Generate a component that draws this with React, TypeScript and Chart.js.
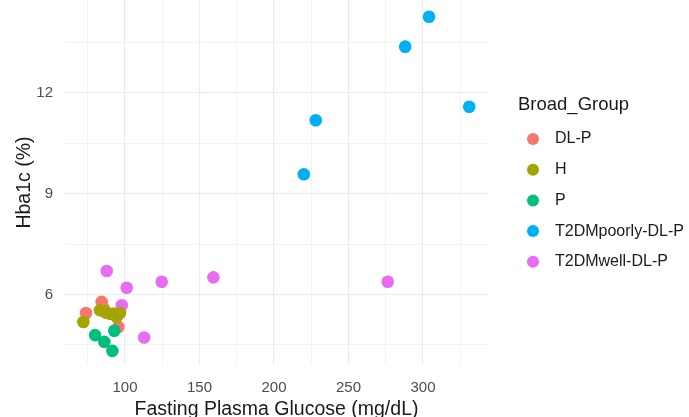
import React, { useEffect, useRef } from "react";
import { Chart, registerables } from "chart.js";

Chart.register(...registerables);

const groupNames = ["DL-P", "H", "P", "T2DMpoorly-DL-P", "T2DMwell-DL-P"];
const groupColors = ["#F8766D", "#A3A500", "#00BF7D", "#00B0F6", "#E76BF3"];

const dlpX = [73.8, 84.3, 85.5, 95.5];
const dlpY = [5.45, 5.78, 5.6, 5.03];
const hX = [72, 83.2, 86, 87.7, 90.5, 92.2, 94.4, 96.6];
const hY = [5.18, 5.53, 5.5, 5.45, 5.42, 5.43, 5.33, 5.45];
const pX = [79.9, 86.1, 91.5, 92.8];
const pY = [4.79, 4.59, 4.32, 4.92];
const poorX = [220, 228, 288, 304, 331];
const poorY = [9.58, 11.19, 13.38, 14.27, 11.59];
const wellX = [87.7, 97.8, 101.1, 112.8, 124.6, 159.3, 276.3];
const wellY = [6.7, 5.68, 6.2, 4.72, 6.38, 6.51, 6.38];

const xTicks = [75, 100, 125, 150, 175, 200, 225, 250, 275, 300, 325];
const xMajor = [100, 150, 200, 250, 300];
const yTicks = [4.5, 6, 7.5, 9, 10.5, 12, 13.5];
const yMajor = [6, 9, 12];

const FONT = "'Liberation Sans', Arial, sans-serif";
const W = 689;
const H = 421;

const zip = (xs: number[], ys: number[]) => xs.map((x, i) => ({ x, y: ys[i] }));

const legendPlugin = {
  id: "ggLegend",
  afterDraw(chart: any) {
    const ctx = chart.ctx;
    ctx.save();
    ctx.textBaseline = "middle";
    ctx.textAlign = "left";
    ctx.fillStyle = "#1a1a1a";
    ctx.font = `18.5px ${FONT}`;
    ctx.fillText("Broad_Group", 518, 105);
    ctx.font = `16px ${FONT}`;
    groupNames.forEach((name, i) => {
      const y = 139 + i * 30.7;
      ctx.beginPath();
      ctx.fillStyle = groupColors[i];
      ctx.arc(533, y, 6, 0, Math.PI * 2);
      ctx.fill();
      ctx.fillStyle = "#1a1a1a";
      ctx.fillText(name, 555, y);
    });
    ctx.restore();
  },
};

export default function App() {
  const ref = useRef<HTMLCanvasElement>(null);
  useEffect(() => {
    if (!ref.current) return;
    const series = [zip(dlpX, dlpY), zip(hX, hY), zip(pX, pY), zip(poorX, poorY), zip(wellX, wellY)];
    const drawOrder = [3, 1, 0, 4, 2];
    const chart = new Chart(ref.current, {
      type: "scatter",
      data: {
        datasets: series.map((d, i) => ({
          label: groupNames[i],
          data: d,
          backgroundColor: groupColors[i],
          borderWidth: 0,
          pointRadius: 6.3,
          pointHoverRadius: 6.3,
          order: drawOrder[i],
          clip: false,
        })),
      },
      options: {
        animation: false,
        responsive: false,
        maintainAspectRatio: false,
        layout: { autoPadding: false, padding: { left: 13.3, right: 201, top: 0, bottom: 0 } },
        plugins: { legend: { display: false }, tooltip: { enabled: false } },
        scales: {
          x: {
            type: "linear",
            min: 59.7,
            max: 343.6,
            afterBuildTicks: (s: any) => {
              s.ticks = xTicks.map((v) => ({ value: v }));
            },
            afterFit: (s: any) => {
              s.height = H - 365;
            },
            grid: {
              drawTicks: false,
              color: "#EBEBEB",
              lineWidth: (c: any) => (xMajor.includes(c.tick?.value) ? 1.1 : 0.6),
            },
            border: { display: false },
            ticks: {
              padding: 13.5,
              color: "#4D4D4D",
              autoSkip: false,
              maxRotation: 0,
              font: (c: any) => ({ family: FONT, size: xMajor.includes(c.tick?.value) ? 15 : 1 }),
              callback: (v: any) => (xMajor.includes(v) ? String(v) : ""),
            },
            title: {
              display: true,
              text: "Fasting Plasma Glucose (mg/dL)",
              color: "#1a1a1a",
              font: { family: FONT, size: 19.5 },
              padding: { top: 0, bottom: 0 },
            },
          },
          y: {
            type: "linear",
            min: 3.9,
            max: 14.77,
            afterBuildTicks: (s: any) => {
              s.ticks = yTicks.map((v) => ({ value: v }));
            },
            afterFit: (s: any) => {
              s.width = 65 - 13.3;
              s.paddingTop = 0;
              s.paddingBottom = 0;
            },
            grid: {
              drawTicks: false,
              color: "#EBEBEB",
              lineWidth: (c: any) => (yMajor.includes(c.tick?.value) ? 1.1 : 0.6),
            },
            border: { display: false },
            ticks: {
              padding: 12,
              color: "#4D4D4D",
              autoSkip: false,
              font: (c: any) => ({ family: FONT, size: yMajor.includes(c.tick?.value) ? 15 : 1 }),
              callback: (v: any) => (yMajor.includes(v) ? String(v) : ""),
            },
            title: {
              display: true,
              text: "Hba1c (%)",
              color: "#1a1a1a",
              font: { family: FONT, size: 19.5 },
              padding: { top: 0, bottom: 0 },
            },
          },
        },
      },
      plugins: [legendPlugin],
    });
    return () => chart.destroy();
  }, []);
  return (
    <div style={{ position: "fixed", left: 0, top: 0, width: W, height: H, background: "#fff" }}>
      <canvas ref={ref} width={W} height={H} style={{ width: W, height: H, display: "block" }} />
    </div>
  );
}
